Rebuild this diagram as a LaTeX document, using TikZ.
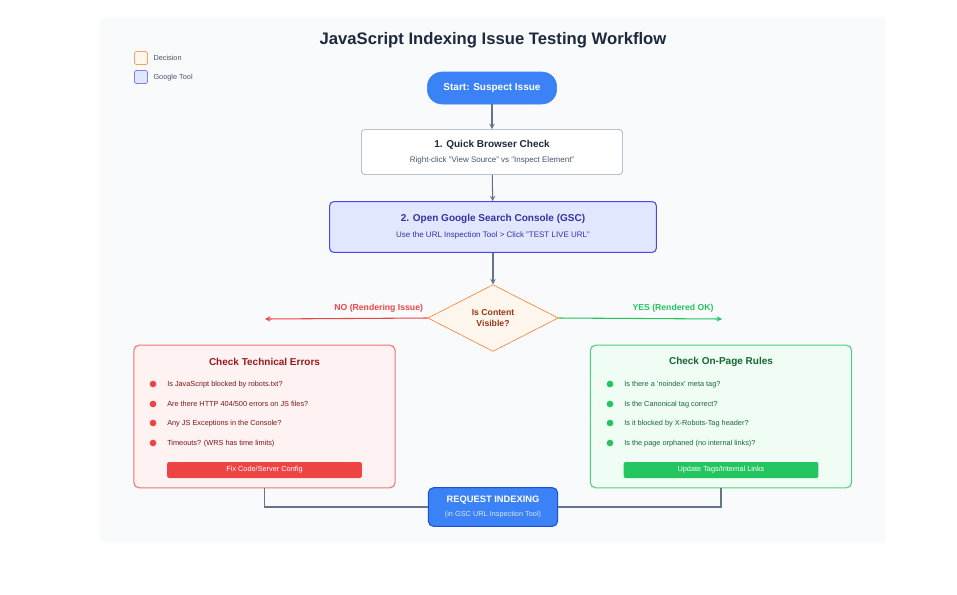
\documentclass[tikz,border=0pt]{standalone}
\usepackage{fontspec}
\setmainfont{Liberation Sans}
\usetikzlibrary{positioning}
\usetikzlibrary{shapes.geometric, arrows}
\definecolor{panelBg}{HTML}{F8FAFC}
\definecolor{lineGrey}{HTML}{64748B}
\definecolor{boxGrey}{HTML}{94A3B8}
\definecolor{textDark}{HTML}{1E293B}
\definecolor{textGrey}{HTML}{475569}
\definecolor{mainBlue}{HTML}{3B82F6}
\definecolor{darkBlue}{HTML}{1D4ED8}
\definecolor{toolFill}{HTML}{E0E7FF}
\definecolor{toolDraw}{HTML}{4F46E5}
\definecolor{toolText}{HTML}{3730A3}
\definecolor{decFill}{HTML}{FFF7ED}
\definecolor{decDraw}{HTML}{F97316}
\definecolor{decText}{HTML}{9A3412}
\definecolor{errRed}{HTML}{EF4444}
\definecolor{errFill}{HTML}{FEF2F2}
\definecolor{errText}{HTML}{991B1B}
\definecolor{okGreen}{HTML}{22C55E}
\definecolor{okFill}{HTML}{F0FDF4}
\definecolor{okText}{HTML}{166534}
\tikzset{
    objPill/.style={rectangle, rounded corners=11pt, minimum width=97pt, minimum height=24pt, fill=mainBlue, draw=mainBlue, text=white, font=\fontsize{7.5}{9}\selectfont\bfseries},
    objRectangle/.style={rectangle, rounded corners=3, minimum width=196pt, minimum height=34pt, text centered, fill=white, draw=boxGrey, align=center},
    objTool/.style={rectangle, rounded corners=3, minimum width=245pt, minimum height=38pt, text centered, fill=toolFill, draw=toolDraw, thick, text=toolText, align=center},
    objDecision/.style={diamond, aspect=2, minimum width=98pt, minimum height=50pt, inner sep=0pt, fill=decFill, draw=decDraw, text=decText, align=center, font=\fontsize{6.5}{8}\selectfont\bfseries},
    objPanel/.style={rectangle, rounded corners=4, minimum width=196pt, minimum height=107pt, thick},
    objButton/.style={rectangle, rounded corners=1.5, minimum width=146pt, minimum height=12pt, inner sep=0pt, text=white, font=\fontsize{5.5}{6}\selectfont},
    objRequest/.style={rectangle, rounded corners=4, minimum width=97pt, minimum height=29pt, fill=mainBlue, draw=darkBlue, thick, text=white, align=center},
    item/.style={anchor=west, inner sep=0pt, text height=4pt, text depth=1pt, font=\fontsize{5.5}{7}\selectfont},
    dot/.style={circle, inner sep=0pt, minimum size=5pt},
    arrow/.style={thick, ->, >=stealth, draw=lineGrey},
    link/.style={thick, draw=lineGrey}
}
\begin{document}
\begin{tikzpicture}[x=0.75pt, y=-0.75pt]
    % canvas and panel
    \fill[white] (0,0) rectangle (957,594);
    \useasboundingbox (0,0) rectangle (957,594);
    \fill[panelBg] (100,18) rectangle (885,542);

    \node (title) at (493,40) {\fontsize{12.5}{14}\selectfont\bfseries\color{textDark}JavaScript Indexing Issue Testing Workflow};

    % legend
    \node (legDec) [rectangle, rounded corners=2, minimum size=10pt, inner sep=0pt, fill=decFill, draw=decDraw] at (141,58) {};
    \node (legTool) [rectangle, rounded corners=2, minimum size=10pt, inner sep=0pt, fill=toolFill, draw=toolDraw] at (141,77) {};
    \node [item, text=textGrey, right=4pt of legDec] {Decision};
    \node [item, text=textGrey, right=4pt of legTool] {Google Tool};

    % main flow
    \node (start) [objPill] at (492,88) {Start: Suspect Issue};
    \node (browser) [objRectangle] at (492,152) {{\fontsize{7.5}{9}\selectfont\bfseries\color{textDark}1. Quick Browser Check}\\[-1pt]{\fontsize{6}{8}\selectfont\color{textGrey}Right-click "View Source" vs "Inspect Element"}};
    \node (gsc) [objTool] at (493,227) {{\fontsize{7.5}{9}\selectfont\bfseries 2. Open Google Search Console (GSC)}\\[0pt]{\fontsize{6}{8}\selectfont Use the URL Inspection Tool > Click "TEST LIVE URL"}};
    \node (visible) [objDecision] at (493,318) {Is Content\\Visible?};
    \coordinate (noEnd) at (265,319);
    \coordinate (yesEnd) at (722,319);

    \draw [arrow] (start) -- (browser);
    \draw [arrow] (browser) -- (gsc);
    \draw [arrow] (gsc) -- (visible);
    \draw [thick, ->, >=stealth, errRed] (visible.west) -- node[above=1pt, font=\fontsize{6.5}{8}\selectfont\bfseries, pos=0.3]{NO (Rendering Issue)} (noEnd);
    \draw [thick, ->, >=stealth, okGreen] (visible.east) -- node[above=1pt, font=\fontsize{6.5}{8}\selectfont\bfseries, pos=0.7]{YES (Rendered OK)} (yesEnd);

    % technical errors
    \node (errors) [objPanel, fill=errFill, draw=errRed!75] at (264.5,416.5) {};
    \node [text=errText, font=\fontsize{7.5}{9}\selectfont\bfseries] at (264.5,362) {Check Technical Errors};
    \foreach \y/\txt in {384/{Is JavaScript blocked by robots.txt?}, 404/{Are there HTTP 404/500 errors on JS files?}, 423/{Any JS Exceptions in the Console?}, 443/{Timeouts? (WRS has time limits)}} {
        \node [dot, fill=errRed] at (153,\y) {};
        \node [item, text=errText!80!black] at (167,\y) {\txt};
    }
    \node (fixBtn) [objButton, fill=errRed] at (264.5,470) {Fix Code/Server Config};

    % on-page rules
    \node (rules) [objPanel, fill=okFill, draw=okGreen!80] at (721,416.5) {};
    \node [text=okText, font=\fontsize{7.5}{9}\selectfont\bfseries] at (721,362) {Check On-Page Rules};
    \foreach \y/\txt in {384/{Is there a 'noindex' meta tag?}, 404/{Is the Canonical tag correct?}, 423/{Is it blocked by X-Robots-Tag header?}, 443/{Is the page orphaned (no internal links)?}} {
        \node [dot, fill=okGreen] at (610,\y) {};
        \node [item, text=okText] at (624,\y) {\txt};
    }
    \node (updBtn) [objButton, fill=okGreen] at (721,470) {Update Tags/Internal Links};

    % request indexing
    \node (request) [objRequest] at (493,507) {{\fontsize{7}{9}\selectfont\bfseries REQUEST INDEXING}\\[-1pt]{\fontsize{5.5}{7}\selectfont\color{white!80!mainBlue}(in GSC URL Inspection Tool)}};
    \draw [link] (errors.south) |- (request.west);
    \draw [link] (rules.south) |- (request.east);

\end{tikzpicture}
\end{document}
